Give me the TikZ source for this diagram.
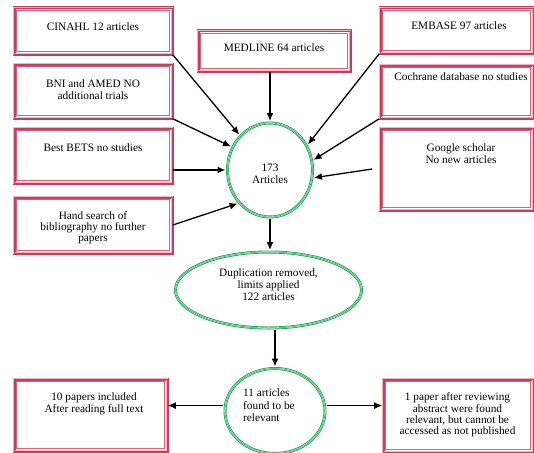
\documentclass[tikz,border=0pt]{standalone}
\usepackage{fontspec}
\setmainfont{Liberation Serif}
\usetikzlibrary{shapes.geometric,arrows.meta,calc}
\definecolor{bred}{RGB}{200,60,95}
\definecolor{bpink}{RGB}{242,178,192}
\definecolor{gr}{RGB}{30,165,80}
\begin{document}
\begin{tikzpicture}[x=1pt,y=-1pt,
  box/.style={rectangle, draw=bpink, line width=1.4pt,
    preaction={draw=bred, line width=3pt},
    postaction={draw=bred, line width=0.45pt},
    inner sep=0pt, outer sep=0.8pt,
    path picture={\draw[bred!80, line width=0.5pt]
      ([shift={(2.6pt,-2.6pt)}]path picture bounding box.north west) rectangle
      ([shift={(-2.6pt,2.6pt)}]path picture bounding box.south east);}},
  ell/.style={ellipse, draw=white, line width=1.2pt,
    preaction={draw=gr, line width=3pt},
    postaction={draw=gr, line width=0.5pt},
    inner sep=0pt, outer sep=2pt},
  txt/.style={align=center, inner sep=0pt, font=\fontsize{11.3}{11.8}\selectfont},
  arr/.style={-{Latex[length=8pt,width=7pt]}, line width=1.3pt}]
\useasboundingbox (0,0) rectangle (534,452);

% boxes
\node[box, minimum width=158pt, minimum height=46pt] (cin) at (93,31) {};
\node[box, minimum width=152pt, minimum height=40pt] (med) at (274,51) {};
\node[box, minimum width=153pt, minimum height=45pt] (emb) at (456.5,30.5) {};
\node[box, minimum width=158pt, minimum height=54pt] (bni) at (93,91) {};
\node[box, minimum width=153pt, minimum height=53pt] (coch) at (456.5,91.5) {};
\node[box, minimum width=158pt, minimum height=55pt] (bets) at (93,155.5) {};
\node[box, minimum width=158pt, minimum height=56pt] (hand) at (93,225) {};
\node[box, minimum width=153pt, minimum height=82pt] (goog) at (456.5,169) {};
\node[box, minimum width=153pt, minimum height=72pt] (ten) at (90.5,415) {};
\node[box, minimum width=150pt, minimum height=73pt] (one) at (458,415.5) {};

% box texts
\node[txt] (tcin) at (93,27) {CINAHL 12 articles};
\node[txt] (tmed) at (274,48) {MEDLINE 64 articles};
\node[txt] (temb) at (459,26) {EMBASE 97 articles};
\node[txt] (tbni) at (93,89.5) {BNI and AMED NO\\additional trials};
\node[txt] (tcoch) at (461,77) {Cochrane database no studies};
\node[txt] (tbets) at (93,148) {Best BETS no studies};
\node[txt, font=\fontsize{11.3}{11.2}\selectfont] (thand) at (93,228) {Hand search of\\bibliography no further\\papers};
\node[txt] (tgoog) at (461,153.5) {Google scholar\\No new articles};
\node[txt] (tten) at (94,403.5) {10 papers included\\After reading full text};
\node[txt, font=\fontsize{11.3}{11.4}\selectfont] (tone) at (457.5,415) {1 paper after reviewing\\abstract were found\\relevant, but cannot be\\accessed as not published};

% ellipses
\node[ell, minimum width=85pt, minimum height=94pt] (c173) at (270,170) {};
\node[txt] (t173) at (270,173.5) {173\\Articles};
\node[ell, minimum width=186pt, minimum height=76pt] (dup) at (268.5,290) {};
\node[txt, font=\fontsize{11.3}{12}\selectfont] (tdup) at (268.5,285) {Duplication removed,\\limits applied\\122 articles};
\node[ell, minimum width=100pt, minimum height=85pt] (rel) at (275,411) {};
\node[txt, align=left, anchor=west, font=\fontsize{11.3}{12.5}\selectfont] (trel) at (243,405.5) {11 articles\\found to be\\relevant};

% connectors into the 173 circle
\draw[arr] (cin.south east) -- (c173.131);
\draw[arr] (bni.south east) -- (c173.149);
\draw[arr] (bets.east |- c173.west) -- (c173.west);
\draw[arr] (hand.east) -- (c173.226);
\draw[arr] (med.south -| c173.north) -- (c173.north);
\draw[arr] (emb.south west) -- (c173.34);
\draw[arr] (coch.south west) -- (c173.13);
\draw[arr] ([xshift=-7pt]goog.west) -- (c173.350);

% downward flow
\draw[arr] (c173.south) -- (c173.south |- dup.north);
\draw[arr] (rel.north |- dup.south) -- (rel.north);
\draw[arr] (rel.174) -- (rel.174 -| ten.east);
\draw[arr] (rel.6) -- (rel.6 -| one.west);
\end{tikzpicture}
\end{document}
